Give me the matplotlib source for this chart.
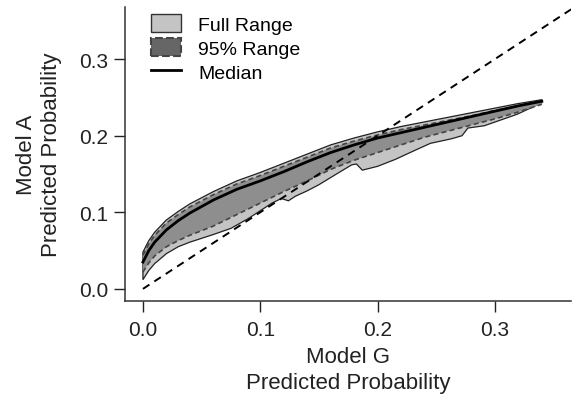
import matplotlib
matplotlib.use("Agg")
import matplotlib.pyplot as plt
from matplotlib.patches import Patch
from matplotlib.lines import Line2D

plt.rcParams['font.family'] = ['Liberation Sans', 'DejaVu Sans']

# grid of Model G probabilities for the smooth curves
xs = [0.0, 0.005, 0.01, 0.02, 0.03, 0.04, 0.06, 0.08, 0.10, 0.12, 0.14,
      0.16, 0.18, 0.20, 0.22, 0.24, 0.26, 0.28, 0.30, 0.32, 0.34]
full_hi = [0.048, 0.063, 0.074, 0.090, 0.101, 0.111, 0.127, 0.141, 0.152, 0.164, 0.176,
           0.188, 0.197, 0.205, 0.212, 0.218, 0.224, 0.230, 0.236, 0.242, 0.247]
ci_hi = [0.044, 0.059, 0.070, 0.086, 0.097, 0.107, 0.123, 0.137, 0.148, 0.160, 0.172,
         0.184, 0.193, 0.201, 0.208, 0.214, 0.220, 0.226, 0.233, 0.239, 0.246]
median = [0.035, 0.050, 0.061, 0.077, 0.089, 0.099, 0.116, 0.130, 0.141, 0.153, 0.166,
          0.178, 0.188, 0.197, 0.204, 0.211, 0.218, 0.225, 0.232, 0.239, 0.245]
ci_lo = [0.022, 0.034, 0.043, 0.055, 0.063, 0.070, 0.082, 0.097, 0.112, 0.127, 0.141,
         0.156, 0.168, 0.178, 0.188, 0.198, 0.206, 0.214, 0.222, 0.231, 0.241]

# lower edge of the full range is jagged, own x points
xs_lo = [0.0, 0.005, 0.01, 0.02, 0.03, 0.04, 0.05, 0.06, 0.075, 0.09, 0.10, 0.11,
         0.118, 0.124, 0.13, 0.14, 0.15, 0.165, 0.178, 0.182, 0.187, 0.20, 0.215,
         0.232, 0.245, 0.263, 0.272, 0.277, 0.291, 0.319, 0.34]
full_lo = [0.012, 0.024, 0.033, 0.046, 0.055, 0.061, 0.066, 0.071, 0.079, 0.092, 0.102, 0.112,
           0.118, 0.115, 0.121, 0.128, 0.136, 0.150, 0.162, 0.163, 0.155, 0.160, 0.169,
           0.181, 0.190, 0.196, 0.200, 0.210, 0.213, 0.228, 0.243]

diag = [0.0, 0.37]

fig = plt.figure(figsize=(5.72, 4.02), dpi=100)
ax = fig.add_axes([0.2185, 0.249, 0.78, 0.731])

# full range polygon
poly_x = xs + xs_lo[::-1]
poly_y = full_hi + full_lo[::-1]
ax.fill(poly_x, poly_y, facecolor='#c4c4c4', edgecolor='#222222', lw=0.9, zorder=1)

# 95% range
ax.fill_between(xs, ci_lo, ci_hi, facecolor='#8e8e8e', edgecolor='none', zorder=2)
ax.plot(xs, ci_hi, color='#444444', ls=(0, (3, 2)), lw=1.2, zorder=3)
ax.plot(xs, ci_lo, color='#444444', ls=(0, (3, 2)), lw=1.2, zorder=3)

ax.plot(xs, median, color='black', lw=2.0, zorder=4)

ax.plot(diag, diag, color='black', ls=(0, (4, 3)), lw=1.4, zorder=5)

ax.set_xlim(-0.0153, 0.365)
ax.set_ylim(-0.0157, 0.368)
ax.set_xticks([0.0, 0.1, 0.2, 0.3])
ax.set_yticks([0.0, 0.1, 0.2, 0.3])
ax.set_xticklabels(['0.0', '0.1', '0.2', '0.3'])
ax.set_yticklabels(['0.0', '0.1', '0.2', '0.3'])
ax.tick_params(direction='out', length=8, width=1, labelsize=15, colors='#222222', pad=4)
ax.tick_params(axis='x', pad=6)
for s in ['top', 'right']:
    ax.spines[s].set_visible(False)
for s in ['left', 'bottom']:
    ax.spines[s].set_linewidth(1.1)
    ax.spines[s].set_color('#333333')

ax.set_xlabel('Model G\nPredicted Probability', fontsize=16, color='#222222', labelpad=5,
              linespacing=1.3)
ax.set_ylabel('Model A\nPredicted Probability', fontsize=16, color='#222222', labelpad=12,
              linespacing=1.3)

handles = [
    Patch(facecolor='#c4c4c4', edgecolor='#333333', lw=1.0, label='Full Range'),
    Patch(facecolor='#666666', edgecolor='#444444', lw=1.5, ls='--', label='95% Range'),
    Line2D([0], [0], color='black', lw=2, label='Median'),
]
ax.legend(handles=handles, loc='upper left', bbox_to_anchor=(0.02, 1.035), frameon=False,
          fontsize=14, handlelength=1.5, handleheight=1.0, labelspacing=0.25, handletextpad=0.9)

fig.savefig('out.png', dpi=100)
